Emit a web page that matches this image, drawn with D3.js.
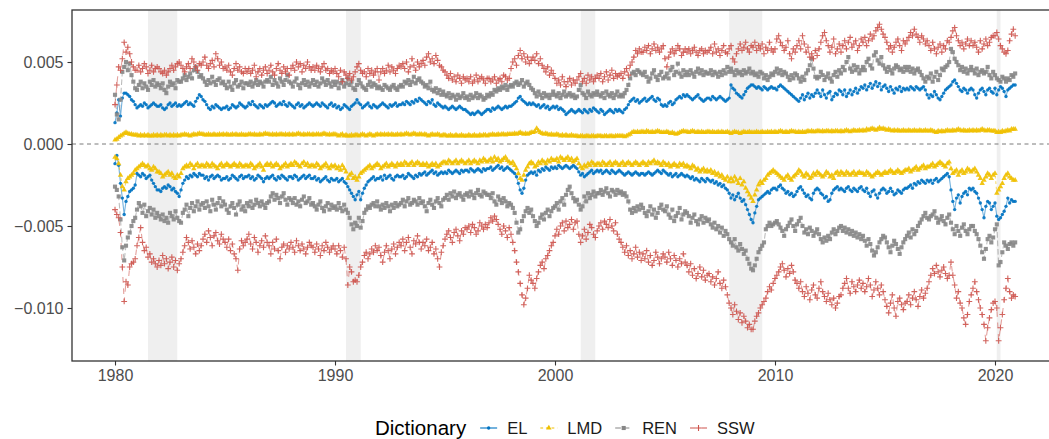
<!DOCTYPE html>
<html>
<head>
<meta charset="utf-8">
<script src="https://cdn.jsdelivr.net/npm/d3@7"></script>
<style>
  body { margin: 0; background: #fff; }
  svg { display: block; font-family: "Liberation Sans", Arial, sans-serif; }
</style>
</head>
<body>
<div id="chart"></div>
<script>
// monthly values, 1980-01 .. 2020-12, in units of 1e-4 (one row per year)
const startYear = 1980;
const dictionaries = ["EL", "LMD", "REN", "SSW"];

const elPos = [
  13,19,27,17,28,31,31,30,29,27,26,24,
  22,23,24,23,25,24,22,23,24,25,24,23,
  23,24,22,21,22,24,25,23,24,25,23,24,
  23,24,25,26,24,25,24,23,26,28,30,29,
  27,26,24,22,21,23,22,24,23,22,21,22,
  22,23,21,22,24,23,22,23,25,24,23,22,
  23,25,24,26,24,23,22,24,23,22,24,23,
  24,25,26,25,23,24,25,24,26,24,23,25,
  24,23,22,24,25,23,24,22,23,24,25,24,
  23,24,25,24,23,25,24,23,22,24,25,23,
  24,22,23,21,22,24,23,22,21,23,24,25,
  27,25,24,22,23,24,25,23,22,24,23,22,
  23,24,25,24,23,22,24,23,24,25,23,24,
  24,25,24,26,25,24,26,25,27,26,28,27,
  26,25,24,26,25,27,24,23,25,24,23,22,
  23,22,21,22,23,22,21,22,23,22,21,21,
  20,19,18,19,18,19,20,19,18,19,20,21,
  21,20,22,21,22,23,22,21,22,23,22,23,
  23,24,25,26,28,29,27,26,25,24,25,24,
  25,24,23,24,22,23,24,22,23,21,22,23,
  22,23,21,22,21,20,18,19,20,21,20,19,
  20,21,20,19,21,20,19,21,20,22,21,20,
  19,21,20,18,19,20,21,20,19,21,20,21,
  20,19,21,22,24,26,27,28,26,27,25,26,
  27,28,26,27,28,29,27,26,28,27,24,23,
  24,23,25,26,24,25,27,28,29,28,30,29,
  30,29,28,27,28,29,30,28,27,26,27,28,
  28,27,29,28,27,28,29,28,27,26,27,28,
  36,34,33,31,30,29,28,30,32,34,35,36,
  36,35,34,35,34,33,35,34,33,34,35,34,
  34,33,35,36,35,34,33,32,31,30,29,28,
  27,26,28,30,27,29,31,28,30,29,31,33,
  31,29,33,30,28,31,32,27,29,31,30,33,
  32,30,33,29,31,33,30,32,34,31,33,35,
  34,36,33,35,37,34,36,38,35,37,33,35,
  36,34,32,35,33,31,34,33,35,32,34,33,
  34,33,35,34,33,35,34,33,34,35,33,30,
  28,30,29,32,30,28,27,29,31,33,34,35,
  36,38,39,37,35,33,32,34,33,31,33,34,
  33,30,28,31,33,34,32,30,33,34,32,31,
  34,30,33,35,34,32,29,33,34,35,36,36
];

const elNeg = [
  -12,-7,-13,-24,-33,-43,-35,-32,-29,-28,-27,-25,
  -18,-19,-20,-18,-19,-21,-20,-19,-22,-24,-26,-28,
  -28,-29,-27,-26,-27,-25,-26,-28,-27,-29,-30,-32,
  -28,-24,-22,-20,-21,-19,-20,-18,-19,-20,-18,-19,
  -19,-21,-20,-22,-20,-19,-21,-20,-19,-20,-22,-21,
  -21,-20,-22,-21,-19,-20,-21,-22,-20,-19,-21,-20,
  -20,-19,-21,-20,-22,-21,-19,-20,-21,-23,-21,-20,
  -21,-20,-19,-21,-22,-20,-21,-19,-20,-21,-22,-20,
  -20,-21,-19,-20,-22,-21,-20,-19,-21,-20,-19,-21,
  -21,-20,-22,-21,-23,-22,-21,-20,-22,-23,-21,-22,
  -22,-21,-23,-22,-21,-23,-24,-26,-28,-30,-32,-34,
  -31,-29,-34,-30,-27,-25,-23,-22,-21,-20,-22,-21,
  -21,-20,-22,-19,-21,-20,-19,-21,-22,-20,-19,-20,
  -20,-19,-21,-20,-18,-19,-20,-21,-19,-20,-18,-19,
  -18,-17,-19,-18,-17,-16,-18,-17,-19,-18,-17,-18,
  -17,-18,-16,-17,-18,-17,-16,-17,-18,-16,-17,-16,
  -16,-17,-15,-16,-17,-16,-15,-16,-17,-15,-16,-15,
  -15,-14,-16,-15,-14,-13,-15,-14,-16,-15,-14,-15,
  -16,-17,-18,-20,-24,-28,-30,-27,-22,-19,-18,-17,
  -18,-17,-19,-16,-17,-15,-16,-14,-15,-16,-14,-15,
  -14,-15,-13,-14,-15,-14,-13,-14,-15,-14,-13,-14,
  -15,-17,-19,-18,-20,-19,-18,-17,-16,-18,-17,-16,
  -17,-16,-18,-17,-16,-17,-18,-16,-17,-18,-17,-16,
  -17,-18,-19,-18,-17,-18,-19,-18,-17,-18,-19,-18,
  -18,-19,-18,-17,-18,-19,-18,-17,-16,-17,-18,-16,
  -17,-18,-19,-18,-20,-19,-18,-20,-19,-18,-19,-20,
  -19,-20,-21,-20,-22,-21,-22,-23,-21,-22,-23,-21,
  -22,-23,-22,-24,-23,-25,-24,-26,-25,-27,-28,-30,
  -33,-31,-34,-32,-30,-33,-35,-34,-37,-40,-43,-46,
  -48,-42,-38,-34,-33,-32,-31,-30,-29,-30,-28,-27,
  -27,-28,-26,-25,-27,-28,-30,-29,-31,-30,-32,-31,
  -29,-27,-26,-28,-30,-32,-31,-33,-34,-30,-28,-27,
  -28,-30,-31,-33,-32,-35,-34,-30,-28,-27,-26,-28,
  -27,-28,-29,-27,-26,-28,-29,-27,-28,-29,-27,-26,
  -28,-29,-27,-30,-32,-29,-28,-31,-33,-30,-28,-27,
  -28,-30,-29,-27,-29,-31,-30,-28,-29,-30,-28,-27,
  -27,-26,-25,-27,-24,-25,-23,-24,-22,-23,-24,-22,
  -23,-22,-24,-22,-21,-23,-22,-21,-20,-19,-18,-20,
  -28,-35,-40,-33,-31,-36,-32,-30,-29,-31,-27,-28,
  -27,-29,-30,-33,-36,-40,-45,-38,-35,-36,-40,-38,
  -36,-44,-46,-45,-43,-41,-38,-33,-36,-34,-35,-35
];

const lmdPos = [
  2.5,3,4,5,5.5,6.5,7,6.5,6,6,5.5,5.5,
  5.5,5,5.5,5,5.5,5,5.5,5,5,5.5,5,5.5,
  5,5.5,5,5.5,5.5,5,5.5,5,5.5,5,5.5,5,
  5.5,5.5,6,5.5,5.5,5,5.5,6,5.5,6,6.5,6,
  6,5.5,5.5,6,5.5,5.5,6,5.5,5.5,6,5.5,6,
  5.5,6,5.5,5.5,6,5.5,6,5.5,5.5,6,5.5,5.5,
  5.5,6,6,5.5,6,5.5,5.5,6,5.5,6,6.5,6,
  6,5.5,6,5.5,6,5.5,6,6,5.5,6,5.5,6,
  5.5,6,5.5,6,6.5,6,5.5,6,5.5,6,6,5.5,
  6,5.5,6,6,5.5,6,6.5,6,5.5,6,5.5,6,
  6,5.5,5,5.5,6,5,5.5,5,5,5.5,5,5.5,
  5.5,5,5.5,6,5.5,5,5.5,6,5.5,5,5.5,6,
  5.5,6,5.5,6,5.5,6,5.5,6,5.5,5.5,6,5.5,
  6,5.5,6,6.5,6,5.5,6,6.5,6,5.5,6,6,
  5.5,6,5.5,5,5.5,6,5.5,5.5,6,5.5,5,5.5,
  5.5,5,5,5.5,5,5,5.5,5,5,5.5,5,5,
  5,5.5,5,5,5.5,5,5,5.5,5,5.5,5.5,5,
  5.5,5.5,6,5.5,5.5,6,5.5,6,6,5.5,6,6,
  6,6,6.5,6,6.5,7,6.5,6,6.5,6,6.5,7,
  7,7.5,9.5,8,7,6.5,6,6.5,6,5.5,6,5.5,
  5.5,6,5.5,5,5.5,5,5.5,5,5,5.5,5,5,
  5,4.5,5,5,4.5,5,5,4.5,5,5,4.5,5,
  5,5,4.5,5,5,4.5,5,5,4.5,5,5,5,
  5,5,4.5,5,5.5,6,7,7.5,7,7.5,7,7.5,
  7.5,7,8,7.5,7,7.5,7,7.5,8,7.5,7,7,
  7,7.5,7,6.5,7,6.5,6,6.5,7,7.5,8,7.5,
  7.5,7,7.5,8,7.5,7,7.5,7,7.5,7,7,7.5,
  7.5,7,7.5,7,7,7.5,7,7.5,7,7,7.5,7,
  6.5,7,7.5,7,7,6.5,7,7.5,7,7,7.5,7,
  7,7,7.5,7,7,7.5,7,7,7.5,7,7.5,7,
  7.5,7,7.5,8,7.5,7,7.5,7,7.5,8,7.5,7.5,
  7,7.5,7,7.5,7,7.5,8,7.5,8,7.5,7.5,8,
  8,7.5,8,7.5,8,8,7.5,8,7.5,8,8,7.5,
  8,7.5,8,8.5,8,7.5,8,8.5,8,8,8.5,8,
  8.5,8,9,8.5,9,9.5,9,8.5,9,10,9,9.5,
  9,8.5,9,8.5,8,8.5,8,8.5,8,8,8.5,8,
  8,8.5,8,8,8.5,8,8,8.5,8,8,8.5,8,
  8,8.5,8,7.5,7,8,7.5,8,7.5,8,8.5,8,
  8,8.5,8,8.5,9,8.5,8,8.5,8,8,8.5,8,
  8.5,8,8.5,8,8.5,9,8.5,8,8.5,8.5,8,8,
  8,7,7.5,7,8,7.5,8,8.5,8,9,9,9
];

const lmdNeg = [
  -8,-9,-12,-19,-26,-28,-23,-21,-20,-19,-18,-16,
  -15,-14,-13,-12,-13,-14,-13,-15,-16,-14,-15,-17,
  -17,-18,-20,-19,-18,-17,-19,-18,-20,-21,-19,-20,
  -18,-15,-14,-13,-14,-12,-13,-15,-13,-12,-14,-13,
  -13,-14,-12,-13,-14,-12,-13,-14,-15,-13,-12,-14,
  -13,-12,-13,-14,-13,-12,-13,-14,-12,-13,-14,-13,
  -13,-14,-12,-13,-15,-14,-13,-12,-14,-16,-13,-12,
  -13,-12,-14,-13,-12,-13,-15,-14,-13,-12,-14,-13,
  -12,-13,-11,-12,-13,-14,-12,-11,-13,-12,-14,-13,
  -13,-14,-12,-13,-15,-14,-13,-12,-14,-15,-13,-14,
  -13,-15,-14,-16,-13,-15,-17,-21,-19,-18,-21,-20,
  -22,-20,-18,-17,-16,-15,-14,-13,-15,-14,-13,-12,
  -13,-15,-14,-13,-12,-14,-13,-12,-13,-14,-12,-13,
  -12,-13,-11,-12,-13,-12,-11,-13,-12,-11,-12,-13,
  -12,-13,-12,-14,-13,-12,-13,-12,-14,-13,-12,-11,
  -11,-12,-10,-11,-12,-11,-10,-12,-11,-10,-11,-12,
  -11,-10,-12,-11,-10,-11,-12,-10,-11,-9,-10,-11,
  -10,-9,-11,-8,-10,-9,-11,-10,-9,-8,-10,-11,
  -12,-11,-13,-15,-18,-21,-22,-19,-16,-14,-12,-11,
  -12,-14,-13,-11,-12,-10,-11,-12,-10,-11,-9,-10,
  -10,-9,-11,-8,-9,-10,-9,-8,-10,-9,-11,-10,
  -9,-12,-14,-15,-13,-14,-12,-13,-11,-12,-13,-12,
  -12,-13,-11,-12,-13,-12,-11,-13,-12,-11,-12,-13,
  -12,-11,-13,-12,-11,-12,-13,-12,-11,-12,-13,-12,
  -11,-12,-13,-11,-12,-11,-10,-12,-11,-12,-13,-11,
  -12,-13,-12,-14,-13,-12,-13,-14,-12,-13,-12,-14,
  -13,-14,-15,-13,-14,-16,-15,-17,-16,-15,-17,-16,
  -17,-16,-18,-17,-19,-18,-20,-19,-21,-22,-20,-23,
  -21,-23,-20,-22,-24,-21,-25,-23,-27,-29,-31,-33,
  -35,-31,-28,-25,-23,-24,-22,-21,-19,-18,-17,-16,
  -17,-18,-19,-20,-21,-22,-20,-19,-21,-22,-20,-19,
  -18,-16,-17,-19,-20,-18,-19,-21,-20,-18,-19,-17,
  -18,-19,-20,-19,-17,-18,-20,-19,-21,-18,-17,-19,
  -17,-18,-19,-17,-18,-19,-18,-17,-19,-18,-17,-18,
  -18,-19,-17,-18,-19,-20,-19,-18,-17,-18,-19,-18,
  -17,-18,-17,-16,-17,-18,-17,-16,-17,-18,-17,-16,
  -16,-15,-17,-16,-15,-14,-16,-15,-14,-13,-15,-14,
  -14,-13,-12,-14,-13,-12,-11,-12,-13,-14,-12,-11,
  -15,-18,-17,-16,-19,-17,-16,-18,-17,-15,-16,-17,
  -16,-15,-17,-19,-21,-24,-22,-20,-18,-19,-21,-19,
  -18,-30,-28,-26,-24,-21,-19,-18,-20,-21,-22,-22
];

const renPos = [
  30,18,15,27,44,47,50,45,49,42,38,34,
  33,36,38,34,37,35,33,38,36,39,35,37,
  36,34,37,33,31,35,38,36,37,34,39,38,
  38,40,42,39,41,43,40,45,47,44,41,42,
  40,38,36,39,37,41,38,36,39,40,37,38,
  36,34,38,35,33,37,39,35,36,38,34,37,
  37,36,38,35,37,39,36,38,37,35,38,39,
  38,41,36,39,37,35,40,38,36,39,42,38,
  37,35,38,40,36,34,37,39,36,38,35,37,
  39,36,38,35,37,40,38,36,39,37,35,38,
  36,38,34,37,39,35,37,40,36,38,34,33,
  36,39,37,35,34,33,36,38,35,37,36,34,
  35,34,33,36,35,34,33,35,36,34,33,35,
  36,35,38,37,39,36,38,41,37,39,40,38,
  37,35,36,34,38,33,32,34,31,33,30,32,
  30,29,31,28,30,29,27,30,28,29,31,28,
  29,27,30,28,29,31,28,30,29,27,28,30,
  29,31,30,33,32,34,33,35,34,36,33,35,
  36,35,37,38,36,37,39,35,37,38,36,34,
  33,31,29,32,30,28,31,29,30,28,30,32,
  30,29,31,28,30,32,29,30,31,29,30,28,
  29,33,36,31,30,28,32,30,29,31,30,32,
  30,29,31,28,32,30,29,31,28,30,32,29,
  30,29,31,33,36,40,43,44,42,45,44,43,
  42,44,41,38,40,43,45,41,39,42,44,40,
  41,43,40,45,47,42,44,49,43,41,45,42,
  44,42,45,43,41,44,46,43,45,42,44,43,
  43,45,42,44,43,41,44,42,45,43,47,44,
  46,44,42,45,43,44,42,45,43,44,46,43,
  44,42,43,41,44,43,40,42,39,41,43,42,
  44,46,43,45,42,44,43,41,39,42,40,43,
  42,40,38,41,39,43,45,48,52,46,41,40,
  41,44,42,39,41,43,40,38,42,44,41,45,
  43,47,45,50,53,46,44,48,45,47,43,45,
  47,45,50,52,48,46,54,56,51,49,53,48,
  46,44,47,45,43,46,48,47,45,46,44,47,
  45,47,44,46,43,45,46,44,42,40,38,41,
  40,43,38,41,44,39,42,46,45,47,48,50,
  58,56,52,50,48,45,47,44,46,43,45,47,
  45,43,46,42,44,45,43,44,47,42,40,44,
  42,40,39,38,41,40,38,40,39,42,41,43
];

const renNeg = [
  -26,-28,-32,-46,-63,-71,-62,-57,-54,-50,-47,-45,
  -40,-36,-38,-42,-37,-44,-41,-39,-43,-40,-45,-42,
  -44,-46,-43,-47,-45,-48,-42,-44,-46,-41,-45,-47,
  -48,-42,-40,-37,-44,-39,-36,-41,-38,-35,-40,-37,
  -36,-39,-35,-38,-41,-34,-37,-40,-36,-33,-38,-35,
  -37,-40,-42,-38,-36,-39,-43,-37,-35,-40,-38,-41,
  -36,-38,-35,-39,-37,-34,-36,-38,-35,-37,-39,-36,
  -35,-32,-30,-34,-31,-33,-36,-32,-30,-34,-37,-33,
  -34,-36,-33,-37,-35,-38,-34,-32,-36,-35,-33,-37,
  -36,-38,-40,-37,-35,-39,-41,-38,-36,-40,-37,-39,
  -38,-40,-36,-39,-41,-37,-40,-42,-45,-49,-52,-48,
  -50,-45,-51,-47,-42,-40,-38,-39,-37,-36,-38,-35,
  -38,-40,-37,-39,-36,-38,-41,-37,-39,-36,-38,-37,
  -36,-34,-38,-35,-33,-37,-36,-34,-35,-37,-33,-36,
  -35,-38,-41,-36,-34,-37,-39,-35,-33,-36,-38,-34,
  -33,-31,-34,-30,-32,-29,-33,-31,-30,-32,-34,-31,
  -30,-32,-29,-31,-33,-30,-28,-31,-32,-29,-30,-31,
  -31,-33,-30,-35,-37,-32,-34,-36,-33,-35,-38,-36,
  -37,-39,-42,-48,-54,-52,-47,-44,-41,-39,-42,-40,
  -44,-47,-50,-48,-45,-43,-46,-42,-40,-44,-41,-39,
  -38,-36,-40,-35,-33,-37,-31,-28,-26,-30,-33,-35,
  -34,-37,-40,-38,-32,-35,-30,-33,-31,-29,-32,-30,
  -30,-28,-31,-29,-27,-30,-32,-28,-29,-31,-28,-30,
  -29,-31,-30,-32,-35,-40,-42,-39,-41,-38,-40,-37,
  -39,-42,-44,-41,-38,-43,-40,-45,-42,-39,-37,-40,
  -41,-38,-43,-45,-40,-47,-44,-42,-39,-46,-43,-41,
  -42,-44,-48,-45,-43,-47,-49,-46,-44,-48,-45,-47,
  -46,-49,-51,-48,-52,-50,-54,-51,-56,-53,-55,-58,
  -60,-62,-58,-63,-65,-61,-64,-67,-65,-70,-73,-76,
  -77,-74,-70,-66,-64,-62,-60,-52,-50,-48,-50,-49,
  -48,-47,-49,-51,-53,-56,-52,-50,-48,-46,-50,-53,
  -49,-47,-45,-50,-54,-52,-55,-51,-53,-56,-54,-52,
  -55,-58,-60,-57,-59,-56,-58,-54,-52,-55,-53,-51,
  -50,-53,-51,-54,-52,-55,-53,-56,-54,-57,-55,-58,
  -56,-59,-62,-58,-61,-65,-68,-66,-63,-60,-58,-56,
  -57,-60,-63,-66,-62,-59,-61,-64,-67,-63,-60,-58,
  -56,-54,-57,-52,-55,-53,-50,-48,-46,-44,-42,-45,
  -46,-44,-43,-41,-45,-48,-46,-44,-47,-49,-45,-43,
  -48,-52,-55,-50,-53,-56,-51,-49,-53,-55,-52,-50,
  -50,-53,-55,-58,-62,-66,-70,-64,-58,-56,-60,-57,
  -52,-49,-74,-72,-66,-60,-62,-64,-61,-60,-62,-60
];

const sswPos = [
  24,36,47,45,52,62,56,59,55,50,47,45,
  45,48,44,46,49,47,43,45,48,44,46,47,
  46,44,43,45,42,44,46,48,45,47,49,50,
  48,46,44,47,49,46,52,50,47,45,49,48,
  50,53,48,46,49,51,47,55,52,48,50,46,
  47,45,48,44,42,46,49,45,47,44,43,46,
  44,46,43,45,48,41,44,46,42,45,47,43,
  45,48,44,42,46,49,45,43,47,44,46,42,
  46,48,45,50,47,49,44,48,46,50,47,45,
  47,45,48,46,44,47,49,45,46,43,45,44,
  46,43,41,45,38,44,42,40,43,39,41,44,
  47,49,45,43,44,41,46,43,45,42,44,46,
  39,44,46,43,45,48,44,47,45,43,46,48,
  47,49,46,50,44,47,52,48,45,50,47,49,
  51,48,53,55,50,52,49,54,51,48,47,45,
  44,42,40,43,39,41,38,42,40,37,41,39,
  40,38,41,37,39,42,38,40,41,39,37,40,
  40,38,39,41,37,39,40,38,42,41,39,40,
  46,50,52,48,54,57,52,55,50,53,49,51,
  53,51,55,49,52,48,46,44,47,42,45,43,
  40,37,39,36,41,38,35,38,40,36,39,37,
  39,41,43,38,40,37,42,39,41,38,40,42,
  40,43,38,41,44,39,42,45,40,43,41,42,
  43,40,44,46,42,48,50,53,57,55,58,56,
  56,59,57,60,55,58,61,57,59,56,58,60,
  52,47,53,56,58,55,57,60,58,54,56,58,
  56,58,55,57,59,56,54,57,58,55,57,56,
  57,59,55,61,56,58,54,57,60,56,55,58,
  60,52,50,55,58,61,57,59,62,58,56,60,
  59,62,57,60,58,61,55,59,57,62,58,56,
  58,64,66,62,60,57,59,63,55,52,58,56,
  60,63,58,66,61,56,59,53,55,52,57,54,
  58,62,66,68,63,60,56,59,64,55,58,61,
  56,60,63,58,62,65,59,61,63,57,60,64,
  62,65,60,63,67,64,66,69,71,73,70,67,
  65,62,58,60,56,59,62,64,60,57,63,61,
  63,65,68,66,70,67,65,62,66,64,61,63,
  60,57,62,58,55,59,61,56,60,58,63,62,
  65,69,71,66,63,60,62,58,61,64,60,63,
  60,62,59,56,63,58,61,64,60,62,65,66,
  66,68,64,60,58,56,55,57,63,67,70,66
];

const sswNeg = [
  -40,-43,-45,-54,-75,-96,-84,-86,-75,-73,-72,-70,
  -62,-57,-51,-60,-65,-63,-69,-67,-72,-70,-73,-75,
  -71,-74,-68,-73,-70,-76,-72,-69,-75,-71,-77,-73,
  -70,-66,-62,-57,-60,-64,-59,-63,-67,-61,-65,-62,
  -58,-55,-60,-53,-57,-62,-56,-54,-59,-61,-55,-58,
  -60,-63,-58,-65,-61,-67,-70,-77,-64,-59,-62,-60,
  -58,-55,-61,-64,-57,-60,-66,-62,-59,-63,-56,-60,
  -62,-67,-60,-64,-58,-65,-70,-63,-61,-66,-62,-64,
  -60,-63,-66,-59,-62,-65,-61,-64,-67,-63,-60,-62,
  -63,-66,-61,-64,-68,-62,-65,-60,-63,-66,-64,-62,
  -64,-67,-62,-65,-69,-63,-70,-86,-75,-78,-84,-83,
  -84,-80,-75,-72,-68,-66,-70,-67,-64,-66,-62,-65,
  -63,-68,-72,-66,-62,-65,-70,-64,-61,-67,-63,-60,
  -62,-58,-65,-60,-57,-63,-67,-59,-61,-56,-60,-64,
  -60,-62,-58,-65,-63,-60,-67,-64,-70,-75,-66,-62,
  -58,-55,-53,-57,-60,-54,-52,-56,-59,-53,-55,-51,
  -52,-50,-54,-49,-51,-55,-53,-48,-50,-52,-49,-51,
  -48,-45,-47,-44,-46,-49,-52,-55,-50,-53,-57,-51,
  -55,-60,-65,-72,-78,-85,-92,-98,-94,-88,-80,-83,
  -85,-88,-82,-78,-74,-72,-76,-70,-68,-65,-62,-60,
  -56,-52,-55,-50,-48,-53,-47,-51,-49,-46,-52,-48,
  -47,-55,-60,-56,-52,-58,-54,-49,-51,-55,-57,-53,
  -50,-48,-52,-47,-49,-51,-46,-50,-53,-48,-55,-58,
  -60,-63,-66,-62,-68,-65,-70,-67,-63,-69,-66,-71,
  -67,-70,-65,-72,-68,-74,-71,-66,-69,-73,-70,-67,
  -69,-72,-66,-70,-74,-68,-71,-75,-70,-73,-67,-72,
  -74,-78,-73,-80,-76,-82,-79,-75,-81,-77,-83,-80,
  -79,-84,-81,-86,-82,-78,-85,-88,-83,-87,-92,-97,
  -100,-104,-98,-102,-107,-103,-109,-105,-108,-112,-110,-113,
  -113,-108,-105,-103,-100,-98,-96,-94,-90,-87,-89,-85,
  -82,-80,-78,-75,-73,-77,-81,-76,-79,-74,-78,-83,
  -85,-88,-84,-90,-93,-87,-91,-95,-89,-86,-92,-94,
  -88,-84,-90,-93,-96,-91,-95,-98,-94,-100,-97,-93,
  -92,-88,-85,-82,-88,-91,-84,-87,-90,-86,-83,-88,
  -85,-90,-87,-82,-86,-93,-89,-84,-88,-92,-86,-90,
  -95,-99,-103,-97,-92,-100,-105,-96,-94,-98,-101,-97,
  -96,-92,-98,-94,-90,-95,-99,-93,-89,-94,-91,-88,
  -84,-80,-76,-79,-74,-78,-81,-77,-75,-79,-82,-80,
  -72,-80,-86,-94,-90,-97,-100,-106,-110,-104,-96,-92,
  -88,-84,-90,-95,-100,-104,-110,-120,-112,-106,-101,-97,
  -96,-100,-120,-112,-104,-95,-88,-82,-90,-94,-92,-93
];

// NBER recessions (fractional years)
const recessionStart = [1981.5, 1990.5, 2001.17, 2007.92, 2020.08];
const recessionEnd   = [1982.83, 1991.17, 2001.83, 2009.42, 2020.25];

const xTicks = [1980, 1990, 2000, 2010, 2020];
const yTicks = [-0.010, -0.005, 0.000, 0.005];

// ---- layout
const width = 1049, height = 439;
const panel = { left: 72, top: 10, right: 1060, bottom: 361 };

const svg = d3.select("#chart")
  .append("svg")
  .attr("width", width)
  .attr("height", height);

const x = d3.scaleLinear()
  .domain([1978.045, 2022.955])
  .range([panel.left, panel.right]);

const y = d3.scaleLinear()
  .domain([-0.013232, 0.008171])
  .range([panel.bottom, panel.top]);

const color = d3.scaleOrdinal()
  .domain(dictionaries)
  .range(["#0073C2", "#EFC000", "#868686", "#CD534C"]);

const dashes = { EL: null, LMD: "2.8,2.8", REN: "5.7,2.8", SSW: "5.7,5.7" };

// build the long table
const seriesList = [
  { dict: "EL", values: elPos }, { dict: "EL", values: elNeg },
  { dict: "LMD", values: lmdPos }, { dict: "LMD", values: lmdNeg },
  { dict: "REN", values: renPos }, { dict: "REN", values: renNeg },
  { dict: "SSW", values: sswPos }, { dict: "SSW", values: sswNeg }
].map(s => ({
  dict: s.dict,
  points: s.values.map((v, i) => ({ t: startYear + i / 12, v: v / 1e4 }))
}));

svg.append("clipPath").attr("id", "clip")
  .append("rect")
  .attr("x", panel.left).attr("y", panel.top)
  .attr("width", panel.right - panel.left).attr("height", panel.bottom - panel.top);

const plot = svg.append("g").attr("clip-path", "url(#clip)");

// recession shading
plot.selectAll(".rec")
  .data(recessionStart)
  .join("rect")
  .attr("x", (d, i) => x(d))
  .attr("width", (d, i) => x(recessionEnd[i]) - x(d))
  .attr("y", panel.top)
  .attr("height", panel.bottom - panel.top)
  .attr("fill", "#efefef");

// zero line
plot.append("line")
  .attr("x1", panel.left).attr("x2", panel.right)
  .attr("y1", y(0)).attr("y2", y(0))
  .attr("stroke", "#7a7a7a")
  .attr("stroke-width", 1)
  .attr("stroke-dasharray", "4,3.5");

// lines
const line = d3.line().x(d => x(d.t)).y(d => y(d.v));
plot.selectAll(".series")
  .data(seriesList)
  .join("path")
  .attr("fill", "none")
  .attr("stroke", d => color(d.dict))
  .attr("stroke-width", 1.1)
  .attr("stroke-opacity", 0.55)
  .attr("stroke-dasharray", d => dashes[d.dict])
  .attr("d", d => line(d.points));

// point shapes (ggplot default: 16, 17, 15, 3)
function marker(dict) {
  if (dict === "EL") return d3.symbol(d3.symbolCircle, 9)();
  if (dict === "LMD") return d3.symbol(d3.symbolTriangle, 13)();
  if (dict === "REN") return d3.symbol(d3.symbolSquare, 17)();
  return "M-2.9,0H2.9M0,-2.9V2.9";
}

seriesList.forEach(s => {
  plot.append("g")
    .selectAll("path")
    .data(s.points)
    .join("path")
    .attr("transform", d => `translate(${x(d.t)},${y(d.v)})`)
    .attr("d", marker(s.dict))
    .attr("fill", s.dict === "SSW" ? "none" : color(s.dict))
    .attr("stroke", s.dict === "SSW" ? color(s.dict) : "none")
    .attr("stroke-width", 1.1)
    .attr("opacity", 0.9);
});

// panel border
svg.append("rect")
  .attr("x", panel.left).attr("y", panel.top)
  .attr("width", panel.right - panel.left).attr("height", panel.bottom - panel.top)
  .attr("fill", "none")
  .attr("stroke", "#333")
  .attr("stroke-width", 1.3);

// axes
const fmt = d3.format(".3f");
const yAxis = svg.append("g")
  .attr("transform", `translate(${panel.left},0)`)
  .call(d3.axisLeft(y).tickValues(yTicks).tickSize(4.5).tickPadding(4).tickFormat(fmt));
const xAxis = svg.append("g")
  .attr("transform", `translate(0,${panel.bottom})`)
  .call(d3.axisBottom(x).tickValues(xTicks).tickSize(4.5).tickPadding(4).tickFormat(d3.format("d")));

[yAxis, xAxis].forEach(a => {
  a.select(".domain").remove();
  a.selectAll(".tick line").attr("stroke", "#333").attr("stroke-width", 1.1);
  a.selectAll(".tick text")
    .attr("fill", "#4d4d4d")
    .style("font-size", "16px")
    .style("font-family", "'Liberation Sans', Arial, sans-serif");
});

// legend
const legend = svg.append("g");
const legY = 428;
const title = legend.append("text")
  .attr("x", 375).attr("y", legY + 7)
  .style("font-size", "20.5px")
  .attr("fill", "#000")
  .text("Dictionary");

let cursor = 375 + title.node().getComputedTextLength() + 14;
dictionaries.forEach(k => {
  const g = legend.append("g");
  g.append("line")
    .attr("x1", cursor).attr("x2", cursor + 17)
    .attr("y1", legY).attr("y2", legY)
    .attr("stroke", color(k))
    .attr("stroke-width", 1.1)
    .attr("stroke-dasharray", dashes[k]);
  g.append("path")
    .attr("transform", `translate(${cursor + 8.5},${legY})`)
    .attr("d", marker(k))
    .attr("fill", k === "SSW" ? "none" : color(k))
    .attr("stroke", k === "SSW" ? color(k) : "none")
    .attr("stroke-width", 1.1);
  const t = g.append("text")
    .attr("x", cursor + 27).attr("y", legY + 6)
    .style("font-size", "16.5px")
    .attr("fill", "#1a1a1a")
    .text(k);
  cursor += 27 + t.node().getComputedTextLength() + 13;
});
</script>
</body>
</html>
